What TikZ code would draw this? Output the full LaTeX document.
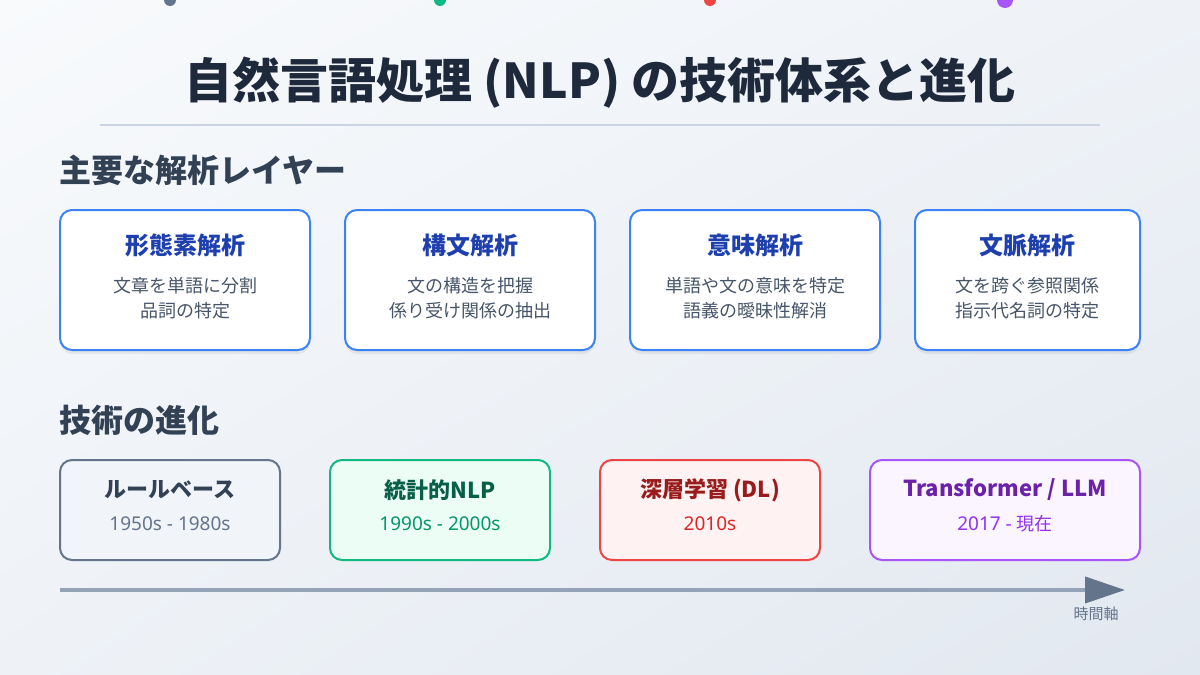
\documentclass[tikz,border=0pt]{standalone}
\usepackage{fontspec}
\setmainfont{Noto Sans CJK JP}
\newfontfamily\subfont{Noto Sans}
\usetikzlibrary{arrows.meta,shadows,shadings}
\definecolor{bgA}{RGB}{248,250,252}
\definecolor{bgB}{RGB}{226,232,240}
\definecolor{bgM}{RGB}{238,242,247}
\definecolor{titleC}{RGB}{30,41,59}
\definecolor{headC}{RGB}{51,65,85}
\definecolor{ruleC}{RGB}{203,213,225}
\definecolor{layerB}{RGB}{59,130,246}
\definecolor{layerT}{RGB}{30,64,175}
\definecolor{bodyC}{RGB}{71,85,105}
\definecolor{slateB}{RGB}{100,116,139}
\definecolor{slateF}{RGB}{241,245,249}
\definecolor{greenB}{RGB}{16,185,129}
\definecolor{greenF}{RGB}{236,253,245}
\definecolor{greenT}{RGB}{6,95,70}
\definecolor{greenS}{RGB}{5,150,105}
\definecolor{redB}{RGB}{239,68,68}
\definecolor{redF}{RGB}{254,242,242}
\definecolor{redT}{RGB}{153,27,27}
\definecolor{redS}{RGB}{220,38,38}
\definecolor{purB}{RGB}{168,85,247}
\definecolor{purF}{RGB}{250,245,255}
\definecolor{purT}{RGB}{107,33,168}
\definecolor{purS}{RGB}{147,51,234}
\definecolor{axisL}{RGB}{148,163,184}

\begin{document}
\begin{tikzpicture}[x=1pt,y=-1pt,
  layer/.style={draw=layerB,line width=2pt,fill=white,rounded corners=12pt,minimum width=250pt,minimum height=140pt,
    drop shadow={fill=black,opacity=0.06,shadow xshift=0pt,shadow yshift=-4pt}},
  era/.style={line width=2pt,rounded corners=12pt,minimum width=220pt,minimum height=100pt},
  head/.style={font=\bfseries\fontsize{32}{38}\selectfont,text=headC,anchor=west},
  ltitle/.style={font=\bfseries\fontsize{24}{28}\selectfont,text=layerT},
  lbody/.style={font=\fontsize{18}{25}\selectfont,text=bodyC,align=center},
  etitle/.style={font=\bfseries\fontsize{22}{26}\selectfont},
  esub/.style={font=\subfont\fontsize{19}{22}\selectfont}]
\useasboundingbox (0,0) rectangle (1200,675);
\clip (0,0) rectangle (1200,675);
\shade[upper left=bgA,lower right=bgB,upper right=bgM,lower left=bgM] (0,0) rectangle (1200,675);
% markers along the top edge
\fill[slateB] (170,0) circle (6);
\fill[greenB] (440,0) circle (6);
\fill[redB] (710,0) circle (6);
\fill[purB] (1005,0) circle (8);
% title
\node[font=\bfseries\fontsize{48}{56}\selectfont,text=titleC] (title) at (600,83) {自然言語処理 (NLP) の技術体系と進化};
\coordinate (r0) at (100,125); \coordinate (r1) at (1100,125);
\draw[ruleC,line width=2pt] (r0) -- (r1);
% analysis layers
\node[head] (h1) at (56,170) {主要な解析レイヤー};
\node[layer] (m1) at (185,280) {};
\node[layer] (m2) at (470,280) {};
\node[layer] (m3) at (755,280) {};
\node[layer,minimum width=225pt] (m4) at (1027.5,280) {};
\node[ltitle] (m1t) at (185,245) {形態素解析};
\node[lbody] (m1b) at (185,298) {文章を単語に分割\\品詞の特定};
\node[ltitle] (m2t) at (470,245) {構文解析};
\node[lbody] (m2b) at (470,298) {文の構造を把握\\係り受け関係の抽出};
\node[ltitle] (m3t) at (755,245) {意味解析};
\node[lbody] (m3b) at (755,298) {単語や文の意味を特定\\語義の曖昧性解消};
\node[ltitle] (m4t) at (1027.5,245) {文脈解析};
\node[lbody] (m4b) at (1027.5,298) {文を跨ぐ参照関係\\指示代名詞の特定};
% evolution
\node[head] (h2) at (56,420) {技術の進化};
\node[era,draw=slateB,fill=slateF] (e1) at (170,510) {};
\node[era,draw=greenB,fill=greenF] (e2) at (440,510) {};
\node[era,draw=redB,fill=redF] (e3) at (710,510) {};
\node[era,draw=purB,fill=purF,minimum width=270pt] (e4) at (1005,510) {};
\node[etitle,text=headC] (e1t) at (170,490) {ルールベース};
\node[esub,text=slateB] (e1s) at (170,524) {1950s - 1980s};
\node[etitle,text=greenT] (e2t) at (440,490) {統計的NLP};
\node[esub,text=greenS] (e2s) at (440,524) {1990s - 2000s};
\node[etitle,text=redT] (e3t) at (710,490) {深層学習 (DL)};
\node[esub,text=redS] (e3s) at (710,524) {2010s};
\node[etitle,text=purT] (e4t) at (1005,490) {Transformer / LLM};
\node[esub,text=purS] (e4s) at (1005,524) {2017 - {\normalfont\fontsize{18}{22}\selectfont 現在}};
% time axis
\coordinate (t0) at (60,590); \coordinate (t1) at (1125,590);
\draw[axisL,line width=4pt,-{Triangle[length=40pt,width=26pt,color=slateB]}] (t0) -- (t1);
\node[font=\fontsize{15}{18}\selectfont,text=slateB] (tl) at (1096,614) {時間軸};
\end{tikzpicture}
\end{document}
